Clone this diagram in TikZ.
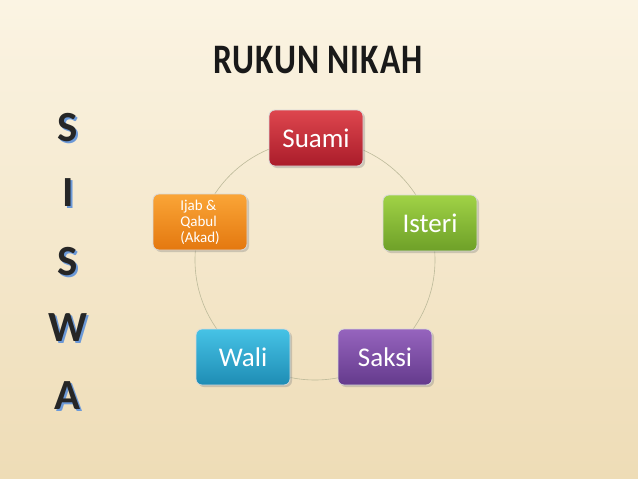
\documentclass[tikz,border=0pt]{standalone}
\usepackage{fontspec}
\setmainfont{Carlito}
\usetikzlibrary{shadows}
\definecolor{bgtop}{HTML}{FBF4E3}
\definecolor{bgbot}{HTML}{EEDCB6}
\tikzset{
  box/.style={rounded corners=6pt, minimum width=94pt, minimum height=56pt, draw=white!85!black, line width=0.8pt, text=white, font=\fontsize{27}{29}\selectfont, align=center, drop shadow={opacity=0.35, shadow xshift=2pt, shadow yshift=-2pt}},
  letter/.style={font=\fontsize{43}{43}\selectfont\bfseries, text=black!85},
  lshadow/.style={font=\fontsize{43}{43}\selectfont\bfseries, text=cyan!50!blue!60!white},
}
\begin{document}
\begin{tikzpicture}[x=1pt,y=-1pt]
\shade[top color=bgtop, bottom color=bgbot] (0,0) rectangle (638,479);
\useasboundingbox (0,0) rectangle (638,479);
\node[xscale=0.8, text=black!90] (title) at (318,60) {\fontsize{42}{44}\selectfont\bfseries\addfontfeature{LetterSpace=3} RUKUN NIKAH};
\foreach \l/\y [count=\i] in {S/128,I/193,S/262,W/328,A/396}{
  \node[lshadow] (ls\i) at (70,\y+2) {\l};
  \node[letter] (l\i) at (68,\y) {\l};
}
\coordinate (c) at (315,260);
\draw[gray!70!olive!60, line width=0.6pt] (c) circle (120);
\node[box, top color={rgb,255:red,222;green,70;blue,78}, bottom color={rgb,255:red,170;green,28;blue,42}] (suami) at (316,138) {Suami};
\node[box, top color={rgb,255:red,160;green,210;blue,70}, bottom color={rgb,255:red,110;green,160;blue,40}] (isteri) at (430,223) {Isteri};
\node[box, top color={rgb,255:red,150;green,100;blue,190}, bottom color={rgb,255:red,100;green,58;blue,140}] (saksi) at (385,357) {Saksi};
\node[box, top color={rgb,255:red,70;green,195;blue,230}, bottom color={rgb,255:red,30;green,140;blue,180}] (wali) at (243,357) {Wali};
\node[box, font=\fontsize{15}{16}\selectfont, align=left, top color={rgb,255:red,250;green,165;blue,55}, bottom color={rgb,255:red,228;green,120;blue,15}] (ijab) at (200,222) {Ijab \&\\Qabul\\(Akad)};
\end{tikzpicture}
\end{document}
